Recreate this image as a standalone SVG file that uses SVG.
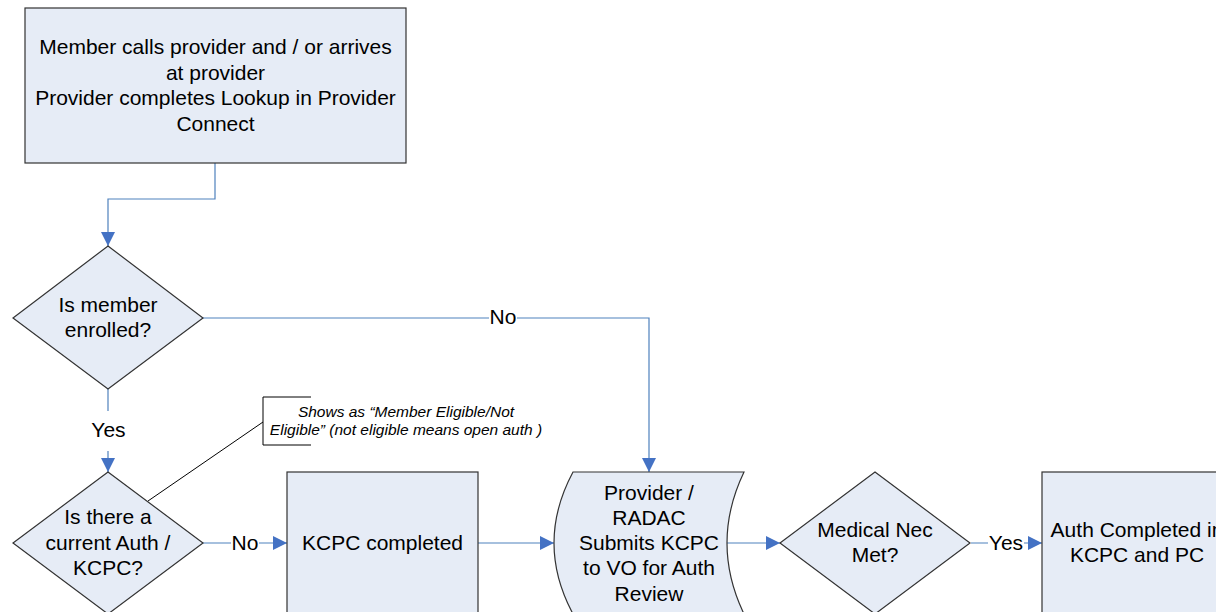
<svg xmlns="http://www.w3.org/2000/svg" width="1216" height="612" viewBox="0 0 1216 612">
<defs>
<style>
.node{fill:#E6ECF6;stroke:#333333;stroke-width:1.2}
.t{font-family:"Liberation Sans",Arial,sans-serif;font-size:21px;fill:#000;text-anchor:middle}
.note{font-family:"Liberation Sans",Arial,sans-serif;font-size:15.5px;font-style:italic;fill:#000;text-anchor:middle}
.conn{fill:none;stroke:#4F81BD;stroke-width:1.2}
.lbg{fill:#FFFFFF}
</style>
<marker id="arr" markerUnits="userSpaceOnUse" markerWidth="14" markerHeight="14" refX="14" refY="7" orient="auto">
<path d="M0,0 L14,7 L0,14 Z" fill="#4472C4"/>
</marker>
</defs>
<rect width="1216" height="612" fill="#FFFFFF"/>

<g id="connectors">
<polyline class="conn" points="215,163 215,199 108,199 108,246" marker-end="url(#arr)"/>
<polyline class="conn" points="203,318 649,318 649,472" marker-end="url(#arr)"/>
<line class="conn" x1="108" y1="389" x2="108" y2="472" marker-end="url(#arr)"/>
<line class="conn" x1="203" y1="543" x2="287" y2="543" marker-end="url(#arr)"/>
<line class="conn" x1="478" y1="543" x2="554" y2="543" marker-end="url(#arr)"/>
<line class="conn" x1="727" y1="543" x2="780" y2="543" marker-end="url(#arr)"/>
<line class="conn" x1="971" y1="543" x2="1042" y2="543" marker-end="url(#arr)"/>
<rect class="lbg" x="489" y="307" width="28" height="22"/>
<text class="t" x="503" y="324">No</text>
<rect class="lbg" x="89" y="411" width="38" height="40"/>
<text class="t" x="108.5" y="437">Yes</text>
<rect class="lbg" x="231" y="532" width="28" height="22"/>
<text class="t" x="245" y="550">No</text>
<rect class="lbg" x="988" y="532" width="36" height="22"/>
<text class="t" x="1006" y="550">Yes</text>
<line x1="148" y1="501" x2="263" y2="422" stroke="#000" stroke-width="1"/>
</g>

<g id="n_start">
<rect class="node" x="25" y="8" width="381" height="155"/>
<text class="t" x="215.5" y="54">Member calls provider and / or arrives</text>
<text class="t" x="215.5" y="79.5">at provider</text>
<text class="t" x="215.5" y="105">Provider completes Lookup in Provider</text>
<text class="t" x="215.5" y="130.5">Connect</text>
</g>

<g id="n_enrolled">
<polygon class="node" points="108,246 203,318 108,389 13,318" stroke="#000"/>
<text class="t" x="108" y="312">Is member</text>
<text class="t" x="108" y="337">enrolled?</text>
</g>

<g id="n_note">
<polyline points="311,397 263,397 263,445 311,445" fill="none" stroke="#000" stroke-width="1"/>
<text class="note" x="406" y="416.5">Shows as “Member Eligible/Not</text>
<text class="note" x="406" y="435">Eligible” (not eligible means open auth )</text>
</g>

<g id="n_current">
<polygon class="node" points="108,472 203,543 108,614 13,543"/>
<text class="t" x="108" y="524">Is there a</text>
<text class="t" x="108" y="550">current Auth /</text>
<text class="t" x="108" y="575">KCPC?</text>
</g>

<g id="n_kcpc">
<rect class="node" x="287" y="472" width="191" height="145"/>
<text class="t" x="382.5" y="550">KCPC completed</text>
</g>

<g id="n_submit">
<path class="node" d="M573,472 L744,472 Q710,543 744,614 L573,614 Q535,543 573,472 Z"/>
<text class="t" x="649" y="499.5">Provider /</text>
<text class="t" x="649" y="524.5">RADAC</text>
<text class="t" x="649" y="550">Submits KCPC</text>
<text class="t" x="649" y="575.3">to VO for Auth</text>
<text class="t" x="649" y="600.7">Review</text>
</g>

<g id="n_medical">
<polygon class="node" points="875,472 970,543 875,614 780,543"/>
<text class="t" x="875" y="536.7">Medical Nec</text>
<text class="t" x="875" y="561.7">Met?</text>
</g>

<g id="n_auth">
<rect class="node" x="1042" y="472" width="190" height="145"/>
<text class="t" x="1137" y="536.7">Auth Completed in</text>
<text class="t" x="1137" y="561.7">KCPC and PC</text>
</g>
</svg>
